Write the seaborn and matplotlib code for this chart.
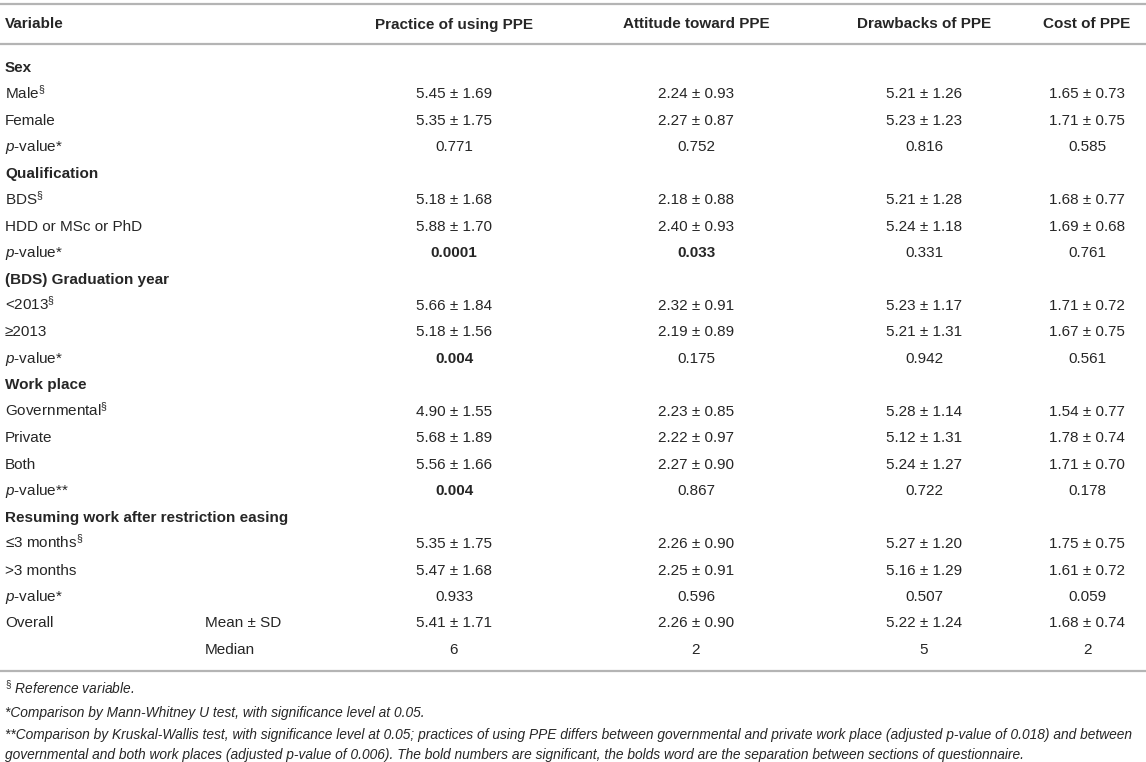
import matplotlib.pyplot as plt
import seaborn as sns

# Table content
row_labels = [
    "Sex", "Male$^{\\S}$", "Female", "p-value*",
    "Qualification", "BDS$^{\\S}$", "HDD or MSc or PhD", "p-value*",
    "(BDS) Graduation year", "<2013$^{\\S}$", "\u22652013", "p-value*",
    "Work place", "Governmental$^{\\S}$", "Private", "Both", "p-value**",
    "Resuming work after restriction easing", "\u22643 months$^{\\S}$", ">3 months", "p-value*",
    "Overall", "",
]
sub_labels = [""] * 21 + ["Mean \u00b1 SD", "Median"]
section_rows = [0, 4, 8, 12, 17]
pvalue_rows = [3, 7, 11, 16, 20]

columns = ["Practice of using PPE", "Attitude toward PPE", "Drawbacks of PPE", "Cost of PPE"]

practice = ["", "5.45 \u00b1 1.69", "5.35 \u00b1 1.75", "0.771",
            "", "5.18 \u00b1 1.68", "5.88 \u00b1 1.70", "0.0001",
            "", "5.66 \u00b1 1.84", "5.18 \u00b1 1.56", "0.004",
            "", "4.90 \u00b1 1.55", "5.68 \u00b1 1.89", "5.56 \u00b1 1.66", "0.004",
            "", "5.35 \u00b1 1.75", "5.47 \u00b1 1.68", "0.933",
            "5.41 \u00b1 1.71", "6"]
attitude = ["", "2.24 \u00b1 0.93", "2.27 \u00b1 0.87", "0.752",
            "", "2.18 \u00b1 0.88", "2.40 \u00b1 0.93", "0.033",
            "", "2.32 \u00b1 0.91", "2.19 \u00b1 0.89", "0.175",
            "", "2.23 \u00b1 0.85", "2.22 \u00b1 0.97", "2.27 \u00b1 0.90", "0.867",
            "", "2.26 \u00b1 0.90", "2.25 \u00b1 0.91", "0.596",
            "2.26 \u00b1 0.90", "2"]
drawbacks = ["", "5.21 \u00b1 1.26", "5.23 \u00b1 1.23", "0.816",
             "", "5.21 \u00b1 1.28", "5.24 \u00b1 1.18", "0.331",
             "", "5.23 \u00b1 1.17", "5.21 \u00b1 1.31", "0.942",
             "", "5.28 \u00b1 1.14", "5.12 \u00b1 1.31", "5.24 \u00b1 1.27", "0.722",
             "", "5.27 \u00b1 1.20", "5.16 \u00b1 1.29", "0.507",
             "5.22 \u00b1 1.24", "5"]
cost = ["", "1.65 \u00b1 0.73", "1.71 \u00b1 0.75", "0.585",
        "", "1.68 \u00b1 0.77", "1.69 \u00b1 0.68", "0.761",
        "", "1.71 \u00b1 0.72", "1.67 \u00b1 0.75", "0.561",
        "", "1.54 \u00b1 0.77", "1.78 \u00b1 0.74", "1.71 \u00b1 0.70", "0.178",
        "", "1.75 \u00b1 0.75", "1.61 \u00b1 0.72", "0.059",
        "1.68 \u00b1 0.74", "2"]
# significant p-values shown in bold: (row, column)
bold_cells = [(7, 0), (7, 1), (11, 0), (16, 0)]

footnotes = [
    "$^{\\S}$ Reference variable.",
    "*Comparison by Mann-Whitney U test, with significance level at 0.05.",
    "**Comparison by Kruskal-Wallis test, with significance level at 0.05; practices of using PPE differs between governmental and private work place (adjusted p-value of 0.018) and between",
    "governmental and both work places (adjusted p-value of 0.006). The bold numbers are significant, the bolds word are the separation between sections of questionnaire.",
]

sns.set_theme(style="white")
plt.rcParams['font.family'] = ['Liberation Sans', 'DejaVu Sans']
plt.rcParams['mathtext.fontset'] = 'custom'
plt.rcParams['mathtext.rm'] = 'Liberation Sans'
plt.rcParams['mathtext.it'] = 'Liberation Sans:italic'

fig = plt.figure(figsize=(11.46, 7.62), dpi=100)
ax = fig.add_axes([0, 0, 1, 1])
ax.set_xlim(0, 1146)
ax.set_ylim(762, 0)
ax.axis('off')

txt = '#262626'
line_c = '#b4b4b4'
fs = 11

col_x = [454, 696, 924, 1087]
row_y0, row_dy = 66.5, 26.45
base = 5.5  # baseline offset from row centre

ax.axhline(4, color=line_c, lw=1.6)
ax.axhline(44, color=line_c, lw=1.6)
ax.axhline(671, color=line_c, lw=1.6)

ax.text(5, 23 + base, "Variable", ha='left', va='baseline', fontsize=fs, fontweight='bold', color=txt)
for cx, name in zip(col_x, columns):
    ax.text(cx, 23 + base, name, ha='center', va='baseline', fontsize=fs, fontweight='bold', color=txt)

value_cols = [practice, attitude, drawbacks, cost]
for i, label in enumerate(row_labels):
    y = row_y0 + i * row_dy + base
    if i in section_rows:
        ax.text(5, y, label, ha='left', va='baseline', fontsize=fs, fontweight='bold', color=txt)
    elif i in pvalue_rows:
        star = label.split("p-value")[1]
        ax.text(5, y, "$\\mathit{p}$-value" + star, ha='left', va='baseline', fontsize=fs, color=txt)
    else:
        ax.text(5, y, label, ha='left', va='baseline', fontsize=fs, color=txt)
    if sub_labels[i]:
        ax.text(205, y, sub_labels[i], ha='left', va='baseline', fontsize=fs, color=txt)
    for j, vals in enumerate(value_cols):
        if vals[i]:
            w = 'bold' if (i, j) in bold_cells else 'normal'
            ax.text(col_x[j], y, vals[i], ha='center', va='baseline', fontsize=fs,
                    fontweight=w, color=txt)

# footnote baselines
foot_y = [694, 716.5, 739, 758.5]
for y, note in zip(foot_y, footnotes):
    ax.text(5, y, note, ha='left', va='baseline', fontsize=9.9, style='italic', color=txt)

fig.savefig("out.png", dpi=100)
